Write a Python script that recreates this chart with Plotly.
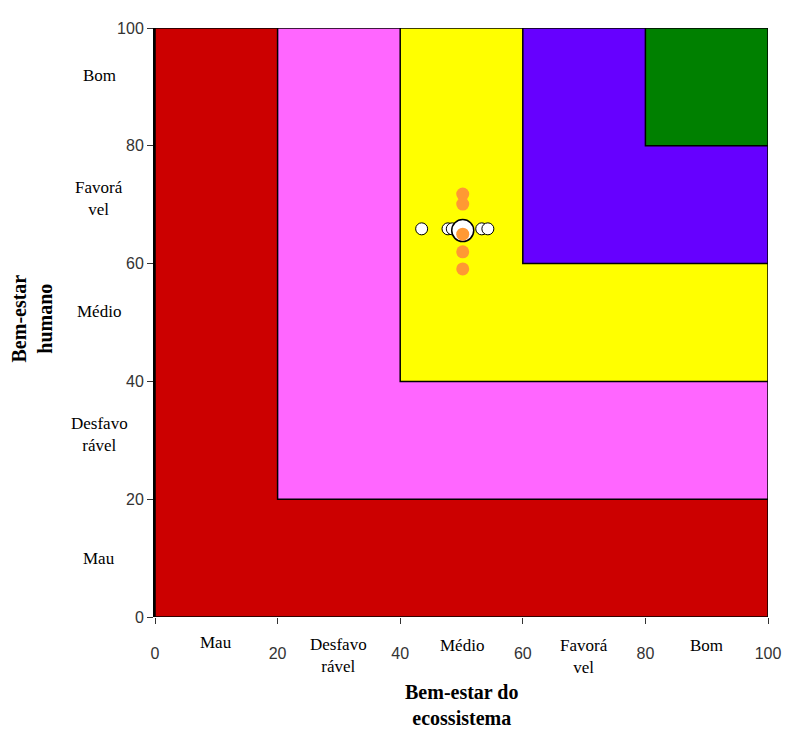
import plotly.graph_objects as go

# Band thresholds and labels
thresholds = [0, 20, 40, 60, 80]
band_colors = ["#CC0000", "#FF66FF", "#FFFF00", "#6600FF", "#008000"]
band_labels_x = ["Mau", "Desfavo<br>rável", "Médio", "Favorá<br>vel", "Bom"]
band_labels_y = ["Mau", "Desfavo<br>rável", "Médio", "Favorá<br>vel", "Bom"]
tick_vals = [0, 20, 40, 60, 80, 100]

# Points (ecosystem well-being, human well-being)
white_x = [43.5, 47.8, 48.5, 53.3, 54.3]
white_y = [65.9, 65.9, 65.9, 65.9, 65.9]
big_x = [50.2]
big_y = [65.6]
orange_x = [50.2, 50.2, 50.2, 50.2, 50.2]
orange_y = [71.8, 70.1, 65.0, 62.0, 59.1]

fig = go.Figure()

shapes = []
for lo, col in zip(thresholds, band_colors):
    shapes.append(dict(type="rect", xref="x", yref="y", x0=lo, y0=lo, x1=100, y1=100,
                       fillcolor=col, line=dict(color="black", width=1.5), layer="below"))

fig.add_trace(go.Scatter(x=white_x, y=white_y, mode="markers",
                         marker=dict(size=12, color="white", line=dict(color="black", width=1)),
                         showlegend=False, hoverinfo="skip"))
fig.add_trace(go.Scatter(x=big_x, y=big_y, mode="markers",
                         marker=dict(size=22, color="white", line=dict(color="black", width=1.5)),
                         showlegend=False, hoverinfo="skip"))
fig.add_trace(go.Scatter(x=orange_x, y=orange_y, mode="markers",
                         marker=dict(size=13, color="#FF9933", line=dict(width=0)),
                         showlegend=False, hoverinfo="skip"))

annotations = []
serif = "Liberation Serif, Times New Roman, serif"
x_label_shifts = [-14, -16, -17, -17, -17]
for lo, lab, ys in zip(thresholds, band_labels_x, x_label_shifts):
    annotations.append(dict(x=lo + 10, y=0, xref="x", yref="paper", yanchor="top", xanchor="center",
                            yshift=ys, text=lab, showarrow=False,
                            font=dict(family=serif, size=17, color="black")))
y_label_shifts = [0, 6, 11, 6, 11]
for lo, lab, ys in zip(thresholds, band_labels_y, y_label_shifts):
    annotations.append(dict(x=0, y=lo + 10, xref="paper", yref="y", yanchor="middle", xanchor="center",
                            xshift=-56, yshift=ys, text=lab, showarrow=False,
                            font=dict(family=serif, size=17, color="black")))
annotations.append(dict(x=50, y=0, xref="x", yref="paper", yanchor="top", xanchor="center",
                        yshift=-62, text="<b>Bem-estar do<br>ecossistema</b>", showarrow=False,
                        font=dict(family=serif, size=20, color="black")))
annotations.append(dict(x=0, y=50, xref="paper", yref="y", xanchor="center", yanchor="middle",
                        xshift=-124, yshift=4, textangle=-90, text="<b>Bem-estar<br>humano</b>",
                        showarrow=False, font=dict(family=serif, size=20, color="black")))

fig.update_layout(
    width=792, height=729,
    margin=dict(l=147, r=32, t=14, b=120),
    paper_bgcolor="white", plot_bgcolor="white",
    shapes=shapes, annotations=annotations,
    showlegend=False,
    xaxis=dict(range=[0, 100], tickvals=tick_vals, showgrid=False, zeroline=False,
               ticks="outside", ticklen=6, tickcolor="#333", showline=False,
               tickfont=dict(family="Liberation Sans, Arial, sans-serif", size=16, color="#333"),
               ticklabelstandoff=16, fixedrange=True),
    yaxis=dict(range=[0, 100], tickvals=tick_vals, showgrid=False, zeroline=False,
               ticks="outside", ticklen=6, tickcolor="#333", showline=True, linecolor="black",
               linewidth=2,
               tickfont=dict(family="Liberation Sans, Arial, sans-serif", size=16, color="#333"),
               fixedrange=True),
)

fig.write_html("out.html")
